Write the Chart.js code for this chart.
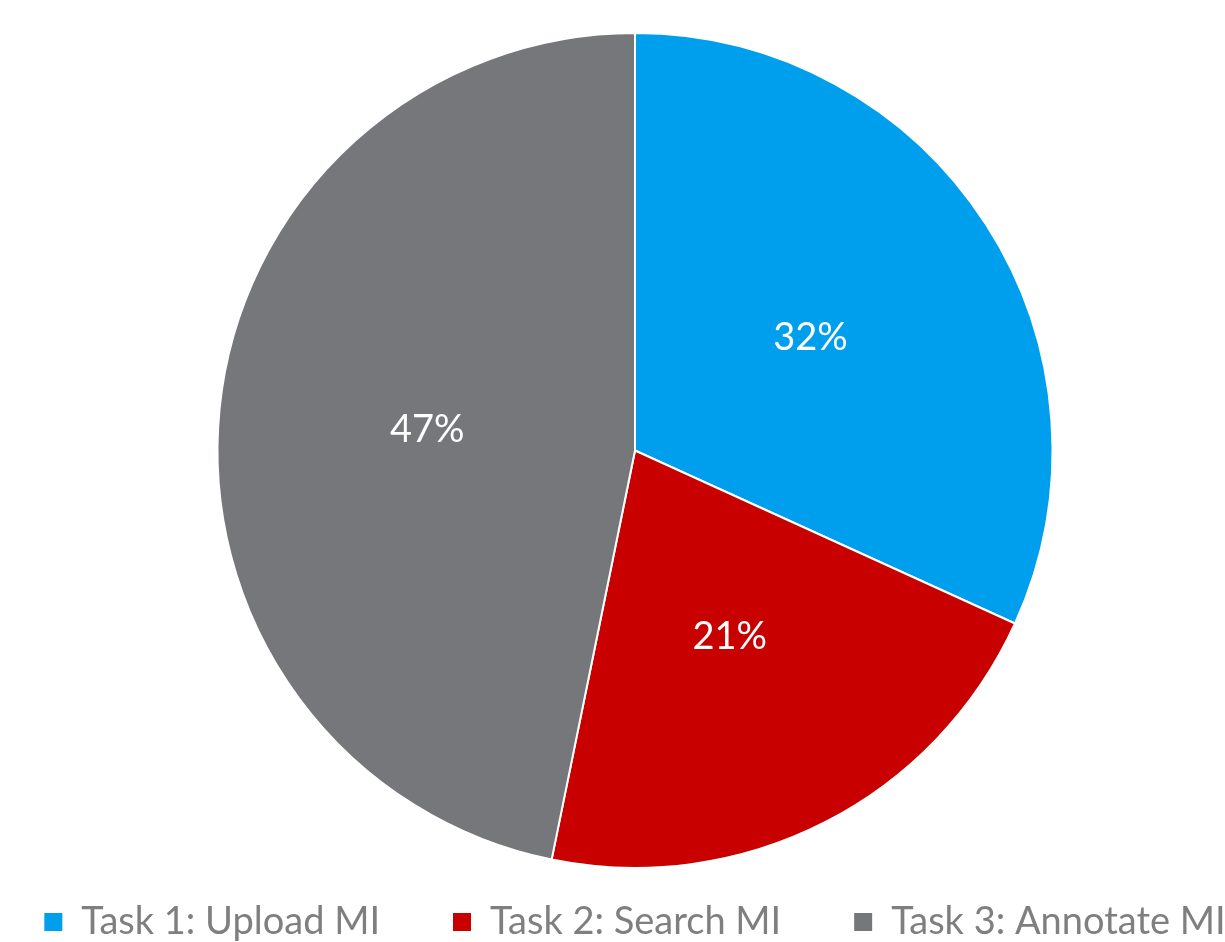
<!DOCTYPE html>
<html>
<head>
<meta charset="utf-8">
<script src="https://cdn.jsdelivr.net/npm/chart.js@4"></script>
<style>
  html, body { margin: 0; padding: 0; background: #ffffff; overflow: hidden; }
  #wrap { width: 1270px; height: 951px; }
</style>
</head>
<body>
<div id="wrap"><canvas id="canvas_grafico" width="1270" height="951"></canvas></div>
<script>
const categorias = ['Task 1: Upload MI', 'Task 2: Search MI', 'Task 3: Annotate MI'];
const valores = [31.8, 21.4, 46.8];
const cores = ['#009FEE', '#C80000', '#76777B'];

// escreve as porcentagens no meio de cada fatia
const rotulosFatias = {
    id: 'rotulosFatias',
    afterDatasetsDraw(chart) {
        const ctx = chart.ctx;
        const meta = chart.getDatasetMeta(0);
        const total = valores.reduce((a, b) => a + b, 0);
        ctx.save();
        ctx.fillStyle = '#ffffff';
        ctx.font = '38px Lato, sans-serif';
        ctx.textAlign = 'center';
        ctx.textBaseline = 'middle';
        meta.data.forEach(function(arc, i) {
            const p = arc.getCenterPoint();
            ctx.fillText(Math.round(valores[i] / total * 100) + '%', p.x, p.y);
        });
        ctx.restore();
    }
};

const ctx = document.getElementById('canvas_grafico').getContext('2d');
new Chart(ctx, {
    type: 'pie',
    data: {
        labels: categorias,
        datasets: [{
            data: valores,
            backgroundColor: cores,
            borderColor: '#ffffff',
            borderWidth: 2
        }]
    },
    options: {
        responsive: false,
        animation: false,
        layout: {
            padding: { top: 32, bottom: 0, left: 0, right: 0 }
        },
        plugins: {
            tooltip: { enabled: false },
            legend: {
                display: true,
                position: 'bottom',
                labels: {
                    color: '#7F7F7F',
                    boxWidth: 18,
                    boxHeight: 18,
                    padding: 34,
                    font: {
                        size: 38,
                        family: 'Lato, sans-serif'
                    },
                    generateLabels: function(chart) {
                        const ds = chart.data.datasets[0];
                        const n = chart.data.labels.length;
                        return chart.data.labels.map(function(label, index) {
                            return {
                                // espaços no fim para afastar os itens (menos no último)
                                text: index < n - 1 ? label + '    ' : label,
                                fillStyle: ds.backgroundColor[index],
                                strokeStyle: ds.backgroundColor[index],
                                lineWidth: 0,
                                fontColor: '#7F7F7F',
                                hidden: false,
                                index: index
                            };
                        });
                    }
                }
            }
        }
    },
    plugins: [rotulosFatias]
});
</script>
</body>
</html>
